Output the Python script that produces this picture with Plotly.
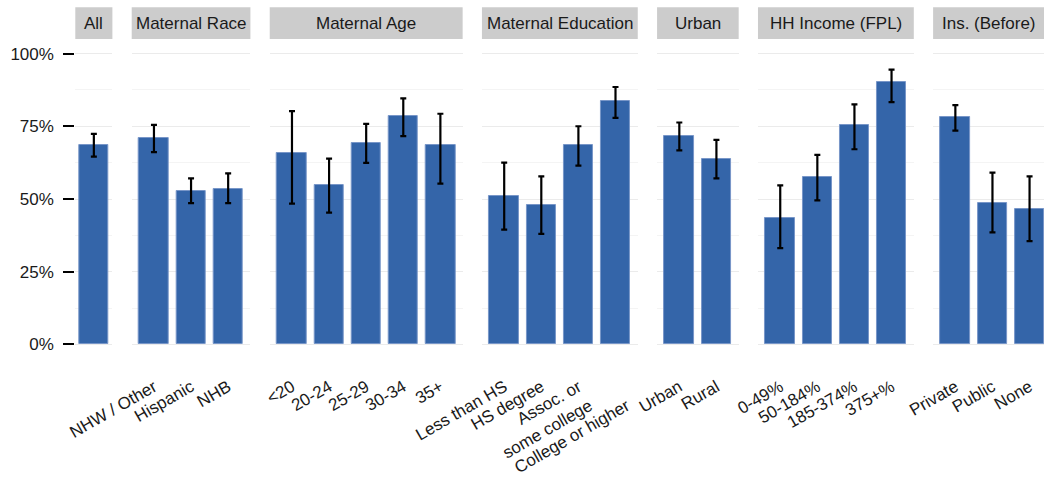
import plotly.graph_objects as go

# ---- data: share (%) with 95% CI bounds, grouped by facet ----
facets = ["All", "Maternal Race", "Maternal Age", "Maternal Education",
          "Urban", "HH Income (FPL)", "Ins. (Before)"]

labels_all = [""]
values_all = [68.7]
lower_all = [64.6]
upper_all = [72.4]

labels_race = ["NHW / Other", "Hispanic", "NHB"]
values_race = [71.1, 52.9, 53.6]
lower_race = [66.1, 48.6, 48.6]
upper_race = [75.5, 57.1, 58.8]

labels_age = ["<20", "20-24", "25-29", "30-34", "35+"]
values_age = [65.8, 54.7, 69.3, 78.6, 68.5]
lower_age = [48.4, 45.3, 62.4, 71.6, 55.3]
upper_age = [80.2, 63.9, 75.8, 84.6, 79.3]

# the last education label starts on a second line so it clears "some college"
labels_edu = ["Less than HS", "HS degree", "Assoc. or<br>some college", " <br>College or higher"]
values_edu = [51.0, 47.8, 68.6, 83.8]
lower_edu = [39.5, 38.0, 61.5, 77.9]
upper_edu = [62.5, 57.8, 75.0, 88.5]

labels_urban = ["Urban", "Rural"]
values_urban = [71.6, 63.8]
lower_urban = [66.7, 57.1]
upper_urban = [76.3, 70.3]

labels_income = ["0-49%", "50-184%", "185-374%", "375+%"]
values_income = [43.4, 57.5, 75.6, 90.1]
lower_income = [33.1, 49.5, 67.1, 83.3]
upper_income = [54.7, 65.2, 82.5, 94.5]

labels_ins = ["Private", "Public", "None"]
values_ins = [78.2, 48.6, 46.4]
lower_ins = [73.5, 38.5, 35.5]
upper_ins = [82.3, 59.1, 57.8]

groups = [
    (labels_all, values_all, lower_all, upper_all),
    (labels_race, values_race, lower_race, upper_race),
    (labels_age, values_age, lower_age, upper_age),
    (labels_edu, values_edu, lower_edu, upper_edu),
    (labels_urban, values_urban, lower_urban, upper_urban),
    (labels_income, values_income, lower_income, upper_income),
    (labels_ins, values_ins, lower_ins, upper_ins),
]

# ---- layout geometry (pixels) ----
W, H = 1044, 478
M_TOP, M_BOT = 39, 119
UNIT = 37.1          # pixels per category slot
GAP = 19.3           # space between facets
X_START = 75.3
STRIP_TOP = 7.3

BAR_COLOR = "#3465A9"
FONT = "Liberation Sans, Arial, sans-serif"
TEXT = "#1A1A1A"

fig = go.Figure()
layout = {}
shapes, annotations = [], []

plot_h = H - M_TOP - M_BOT
x_left = X_START
for i, (name, (labs, vals, lo, hi)) in enumerate(zip(facets, groups), start=1):
    n = len(labs)
    if n == 1:
        r0, r1 = -0.5, 0.5
    else:
        r0, r1 = -0.6, n - 0.4
    x_right = x_left + (r1 - r0) * UNIT
    if x_right > W:
        r1 = r0 + (W - x_left) / UNIT
        x_right = W
    sx = "" if i == 1 else str(i)
    xs = list(range(n))
    fig.add_trace(go.Bar(
        x=xs, y=[v / 100 for v in vals],
        width=0.8,
        marker=dict(color=BAR_COLOR, line=dict(color="#7896C8", width=1)),
        error_y=dict(type="data", symmetric=False,
                     array=[(h - v) / 100 for h, v in zip(hi, vals)],
                     arrayminus=[(v - l) / 100 for v, l in zip(vals, lo)],
                     color="black", thickness=2.2, width=3),
        xaxis="x" + sx, yaxis="y" + sx,
        showlegend=False, hoverinfo="skip",
    ))
    layout["xaxis" + sx] = dict(
        domain=[x_left / W, min(x_right / W, 1.0)],
        range=[r0, r1], anchor="y" + sx, automargin=False,
        tickmode="array", tickvals=xs, ticktext=labs,
        tickangle=-30, showgrid=False, zeroline=False, showline=False,
        ticks="", ticklabelstandoff=14,
        tickfont=dict(family=FONT, size=17, color=TEXT),
        fixedrange=True,
    )
    yax = dict(
        domain=[0, 1], range=[-0.05, 1.05], anchor="x" + sx, automargin=False,
        tickvals=[0, 0.25, 0.5, 0.75, 1.0], tickformat=".0%",
        showgrid=True, gridcolor="#EBEBEB", gridwidth=1,
        minor=dict(dtick=0.125, tick0=0, showgrid=True, gridcolor="#F4F4F4", gridwidth=1),
        zeroline=False, showline=False, fixedrange=True,
    )
    if i == 1:
        yax.update(ticks="outside", ticklen=11, tickwidth=2, tickcolor="black",
                   ticklabelstandoff=6,
                   tickfont=dict(family=FONT, size=17, color=TEXT))
    else:
        yax.update(matches="y", showticklabels=False, ticks="")
    layout["yaxis" + sx] = yax

    # facet strip
    y_bot = 1.0
    y_top = (H - M_BOT - STRIP_TOP) / plot_h
    shapes.append(dict(type="rect", xref="x" + sx + " domain", yref="paper",
                       x0=0, x1=1, y0=y_bot, y1=y_top,
                       fillcolor="#CCCCCC", line=dict(width=0), layer="below"))
    annotations.append(dict(xref="x" + sx + " domain", yref="paper",
                            x=0.5, y=(y_bot + y_top) / 2, text=name,
                            showarrow=False, xanchor="center", yanchor="middle",
                            font=dict(family=FONT, size=17, color=TEXT)))
    x_left = x_right + GAP

fig.update_layout(
    **layout,
    shapes=shapes, annotations=annotations,
    width=W, height=H,
    margin=dict(l=0, r=0, t=M_TOP, b=M_BOT, pad=0, autoexpand=False),
    paper_bgcolor="white", plot_bgcolor="white",
    bargap=0,
    font=dict(family=FONT, size=17, color=TEXT),
)

fig.write_html("out.html", include_plotlyjs=True, config={"displayModeBar": False})
